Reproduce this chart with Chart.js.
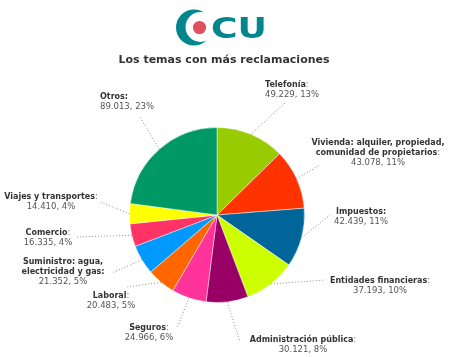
<!DOCTYPE html>
<html>
<head>
<meta charset="utf-8">
<script src="https://cdn.jsdelivr.net/npm/chart.js@4"></script>
<style>
  html, body { margin: 0; padding: 0; background: #fff; }
  #wrap { position: relative; width: 450px; height: 357px; overflow: hidden; }
  #c { position: absolute; left: 0; top: 0; }
  #logo { position: absolute; left: 0; top: 0; }
  #title { position: absolute; left: 0; top: 53px; width: 448px; text-align: center;
           font-family: "DejaVu Sans", Verdana, sans-serif; font-weight: bold; font-size: 11px; color: #333; }
</style>
</head>
<body>
<div id="wrap">
  <canvas id="c" width="450" height="357"></canvas>
  <svg id="logo" width="450" height="50" xmlns="http://www.w3.org/2000/svg">
    <circle cx="194" cy="27.5" r="18" fill="#00868c"/>
    <circle cx="200.5" cy="27" r="15" fill="#fff"/>
    <circle cx="199.5" cy="27.5" r="6.6" fill="#e0505f"/>
    <text x="211" y="38" font-family="DejaVu Sans, sans-serif" font-weight="bold" font-size="29" fill="#00868c" textLength="56" lengthAdjust="spacingAndGlyphs">CU</text>
  </svg>
  <div id="title">Los temas con más reclamaciones</div>
</div>
<script>
// ---- data ----
const categories = [
  "Telefonía",
  "Vivienda: alquiler, propiedad,\ncomunidad de propietarios",
  "Impuestos:",
  "Entidades financieras",
  "Administración pública",
  "Seguros",
  "Laboral",
  "Suministro: agua,\nelectricidad y gas:",
  "Comercio",
  "Viajes y transportes",
  "Otros:"
];
const values = [49229, 43078, 42439, 37193, 30121, 24966, 20483, 21352, 16335, 14410, 89013];
const percentLabels = ["13%", "11%", "11%", "10%", "8%", "6%", "5%", "5%", "4%", "4%", "23%"];
const colors = ["#99cc00", "#ff3300", "#006699", "#ccff00", "#990066", "#ff3399",
                "#ff6600", "#0099ff", "#ff3366", "#ffff00", "#009966"];

// ---- label layout (offsets from pie centre, px) ----
const leaderEnds = [[68,-112],[103,-50],[113,0],[108,65],[23,127],[-40,113],[-90,72],[-105,58],[-140,22],[-117,-13],[-77,-98]];
const labelAnchors = [[48,-130],[161,-72],[144,-3],[163,66],[86,125],[-68,113],[-106,81],[-154,47],[-169,18],[-166,-18],[-117,-118]];
const labelAlign = ["left","center","center","center","center","center","center","center","center","center","left"];

function fmt(v) {
  return String(v).replace(/\B(?=(\d{3})+(?!\d))/g, ".");
}

const labelPlugin = {
  id: "labels",
  afterDraw(chart) {
    const ctx = chart.ctx;
    const meta = chart.getDatasetMeta(0);
    const boldFont = 'bold 8px "DejaVu Sans", Verdana, sans-serif';
    const normFont = '8.5px "DejaVu Sans", Verdana, sans-serif';
    meta.data.forEach((arc, i) => {
      const p = arc.getProps(["x","y","startAngle","endAngle","outerRadius"], true);
      const mid = (p.startAngle + p.endAngle) / 2;
      const sx = p.x + Math.cos(mid) * p.outerRadius;
      const sy = p.y + Math.sin(mid) * p.outerRadius;
      const ex = p.x + leaderEnds[i][0];
      const ey = p.y + leaderEnds[i][1];
      ctx.save();
      ctx.strokeStyle = "#8a8a8a";
      ctx.lineWidth = 1;
      ctx.setLineDash([1, 2]);
      ctx.beginPath();
      ctx.moveTo(sx, sy);
      ctx.lineTo(ex, ey);
      ctx.stroke();
      ctx.restore();

      // text
      const ax = p.x + labelAnchors[i][0];
      let y = p.y + labelAnchors[i][1];
      const align = labelAlign[i];
      ctx.save();
      ctx.textBaseline = "middle";
      const lines = categories[i].split("\n");
      lines.forEach((ln, li) => {
        const isLast = li === lines.length - 1;
        const boldColon = ln.endsWith(":");
        const extra = (isLast && !boldColon) ? ":" : "";
        ctx.font = boldFont;
        const w1 = ctx.measureText(ln).width;
        ctx.font = normFont;
        const w2 = extra ? ctx.measureText(extra).width : 0;
        const total = w1 + w2;
        let x0 = align === "left" ? ax : ax - total / 2;
        ctx.textAlign = "left";
        ctx.font = boldFont;
        ctx.fillStyle = "#333";
        ctx.fillText(ln, x0, y);
        if (extra) {
          ctx.font = normFont;
          ctx.fillStyle = "#777";
          ctx.fillText(extra, x0 + w1, y);
        }
        y += 10;
      });
      ctx.font = normFont;
      ctx.fillStyle = "#555";
      ctx.textAlign = align === "left" ? "left" : "center";
      ctx.fillText(fmt(values[i]) + ", " + percentLabels[i], ax, y);
      ctx.restore();
    });
  }
};

new Chart(document.getElementById("c"), {
  type: "pie",
  data: {
    labels: categories,
    datasets: [{
      data: values,
      backgroundColor: colors,
      borderColor: "rgba(255,255,255,0.45)",
      borderWidth: 1
    }]
  },
  options: {
    responsive: false,
    animation: false,
    devicePixelRatio: 1,
    layout: { padding: { left: 129, right: 145, top: 127, bottom: 54 } },
    plugins: {
      legend: { display: false },
      tooltip: { enabled: false },
      title: { display: false }
    }
  },
  plugins: [labelPlugin]
});
</script>
</body>
</html>
